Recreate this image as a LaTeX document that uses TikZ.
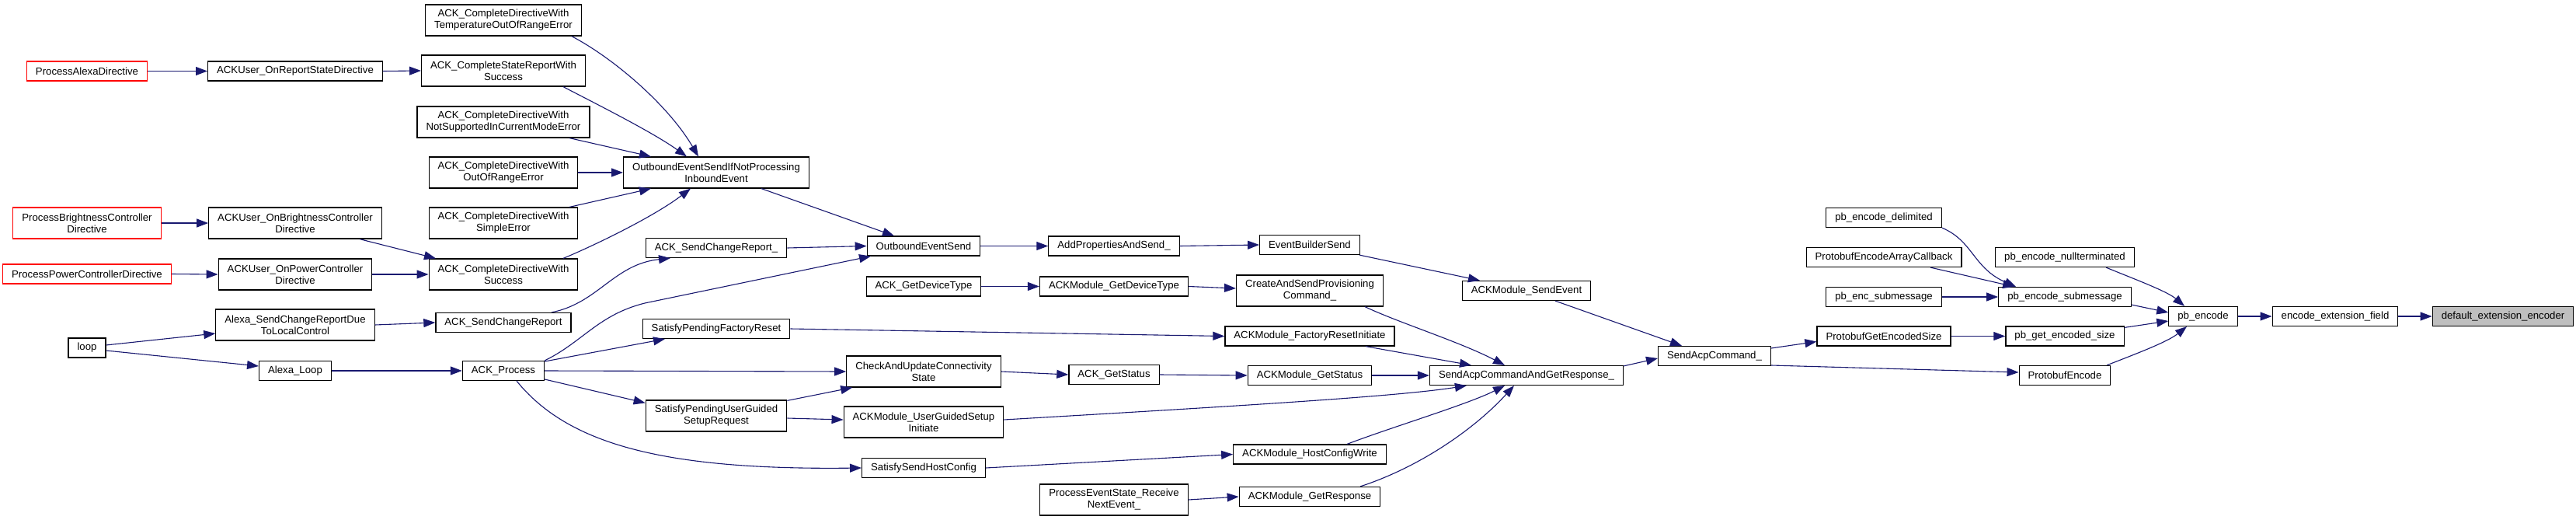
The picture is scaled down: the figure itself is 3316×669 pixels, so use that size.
\documentclass[tikz,border=0pt]{standalone}
\usepackage{fontspec}
\setmainfont{Liberation Sans}
\usetikzlibrary{arrows.meta, calc}
\definecolor{cEdge}{RGB}{25, 25, 112}
\definecolor{cRoot}{RGB}{191, 191, 191}
\definecolor{bCaller}{RGB}{255, 0, 0}
\definecolor{tDark}{RGB}{0, 0, 0}

\begin{document}
\begin{tikzpicture}[
    x=0.5pt, y=-0.5pt,
    font=\fontsize{6.6}{7.5}\selectfont,
    >={Triangle[length=7.5pt, width=5.5pt]},
    fn/.style={
        draw=#1,
        line width=0.6pt,
        fill=white,
        text=tDark,
        align=center,
        inner xsep=5.75pt,
        inner ysep=1pt,
        minimum height=12.5pt
    },
    fn/.default=black,
    twoline/.style={minimum height=20pt},
    arrow/.style={->, line width=0.55pt, color=cEdge}
]
\useasboundingbox (0,0) rectangle (3316,669);

% Callers on the far left
\node[fn=bCaller] (pad) at (112, 91.5) {ProcessAlexaDirective};
\node[fn=bCaller, twoline] (pbcd) at (112, 287) {ProcessBrightnessController\\Directive};
\node[fn=bCaller] (ppcd) at (112, 352.5) {ProcessPowerControllerDirective};
\node[fn] (loop) at (112, 447.5) {loop};

\node[fn] (uors) at (380, 91.5) {ACKUser\_OnReportStateDirective};
\node[fn, twoline] (uobc) at (380, 287) {ACKUser\_OnBrightnessController\\Directive};
\node[fn, twoline] (uopc) at (380, 353) {ACKUser\_OnPowerController\\Directive};
\node[fn, twoline] (scrd) at (380, 418) {Alexa\_SendChangeReportDue\\ToLocalControl};
\node[fn] (aloop) at (380, 477) {Alexa\_Loop};

\node[fn, twoline] (temp) at (648, 26) {ACK\_CompleteDirectiveWith\\TemperatureOutOfRangeError};
\node[fn, twoline] (csrs) at (648, 91) {ACK\_CompleteStateReportWith\\Success};
\node[fn, twoline] (nsup) at (648, 157) {ACK\_CompleteDirectiveWith\\NotSupportedInCurrentModeError};
\node[fn, twoline] (oor) at (648, 222) {ACK\_CompleteDirectiveWith\\OutOfRangeError};
\node[fn, twoline] (serr) at (648, 287) {ACK\_CompleteDirectiveWith\\SimpleError};
\node[fn, twoline] (cdws) at (648, 353) {ACK\_CompleteDirectiveWith\\Success};
\node[fn] (scr) at (648, 415) {ACK\_SendChangeReport};
\node[fn] (proc) at (648, 477) {ACK\_Process};

\node[fn, twoline] (oesi) at (922, 222) {OutboundEventSendIfNotProcessing\\InboundEvent};
\node[fn] (scru) at (922, 319) {ACK\_SendChangeReport\_};
\node[fn] (spfr) at (922, 423) {SatisfyPendingFactoryReset};
\node[fn, twoline] (spug) at (922, 535) {SatisfyPendingUserGuided\\SetupRequest};

\node[fn] (oes) at (1189, 316.5) {OutboundEventSend};
\node[fn] (gdt) at (1189, 368.5) {ACK\_GetDeviceType};
\node[fn, twoline] (cuc) at (1189, 478) {CheckAndUpdateConnectivity\\State};
\node[fn, twoline] (ugsi) at (1189, 543) {ACKModule\_UserGuidedSetup\\Initiate};
\node[fn] (sshc) at (1189, 602) {SatisfySendHostConfig};

\node[fn] (apas) at (1434, 316.5) {AddPropertiesAndSend\_};
\node[fn] (mgdt) at (1434, 368.5) {ACKModule\_GetDeviceType};
\node[fn] (gst) at (1434, 482) {ACK\_GetStatus};
\node[fn, twoline] (pesr) at (1434, 643) {ProcessEventState\_Receive\\NextEvent\_};

\node[fn] (ebs) at (1686, 315) {EventBuilderSend};
\node[fn, twoline] (casp) at (1686, 374) {CreateAndSendProvisioning\\Command\_};
\node[fn] (mfri) at (1686, 432.5) {ACKModule\_FactoryResetInitiate};
\node[fn] (mgst) at (1686, 483) {ACKModule\_GetStatus};
\node[fn] (mhcw) at (1686, 584.5) {ACKModule\_HostConfigWrite};
\node[fn] (mgr) at (1686, 639) {ACKModule\_GetResponse};

\node[fn] (mse) at (1965, 374) {ACKModule\_SendEvent};
\node[fn] (sacgr) at (1965, 483) {SendAcpCommandAndGetResponse\_};
\node[fn] (sac) at (2207, 458) {SendAcpCommand\_};

% Protobuf side
\node[fn] (pbed) at (2425, 280) {pb\_encode\_delimited};
\node[fn] (peac) at (2425, 331) {ProtobufEncodeArrayCallback};
\node[fn] (pbes) at (2425, 382) {pb\_enc\_submessage};
\node[fn] (pges) at (2425, 432.5) {ProtobufGetEncodedSize};

\node[fn] (pbnt) at (2658, 331) {pb\_encode\_nullterminated};
\node[fn] (pbesm) at (2658, 382) {pb\_encode\_submessage};
\node[fn] (pbgs) at (2658, 432.5) {pb\_get\_encoded\_size};
\node[fn] (penc) at (2658, 483) {ProtobufEncode};

\node[fn] (pbe) at (2836, 407) {pb\_encode};
\node[fn] (eef) at (3006, 407) {encode\_extension\_field};
\node[fn, fill=cRoot] (dee) at (3222, 407) {default\_extension\_encoder};

% Edges, left part
\draw[arrow] (pad.east) -- (uors.west);
\draw[arrow] (uors.east) -- (csrs.west);
\draw[arrow] (pbcd.east) -- (uobc.west);
\draw[arrow] ($(uobc.south)+(83,0)$) -- ($(cdws.north)+(-87,0)$);
\draw[arrow] (ppcd.east) -- (uopc.west);
\draw[arrow] (uopc.east) -- (cdws.west);
\draw[arrow] ($(loop.east)+(0,-3.5)$) -- ($(scrd.west)+(0,11)$);
\draw[arrow] ($(loop.east)+(0,3.5)$) -- ($(aloop.west)+(0,-6)$);
\draw[arrow] (scrd.east) -- (scr.west);
\draw[arrow] (aloop.east) -- (proc.west);

\draw[arrow] ($(temp.south east)+(-13,0)$) .. controls (790,75) and (860,135) .. ($(oesi.north)+(-23,0)$);
\draw[arrow] ($(csrs.south)+(77,0)$) .. controls (770,135) and (840,170) .. ($(oesi.north)+(-38,0)$);
\draw[arrow] ($(nsup.south)+(85,0)$) -- ($(oesi.north)+(-84,0)$);
\draw[arrow] (oor.east) -- (oesi.west);
\draw[arrow] ($(serr.north)+(85,0)$) -- ($(oesi.south)+(-84,0)$);
\draw[arrow] ($(cdws.north)+(77,0)$) .. controls (760,318) and (840,280) .. ($(oesi.south)+(-33,0)$);
\draw[arrow] ($(scr.north)+(62,0)$) .. controls (770,390) and (790,340) .. ($(scru.south)+(-59,0)$);

\draw[arrow] ($(oesi.south)+(58,0)$) -- ($(oes.north)+(-38,0)$);
\draw[arrow] (scru.east) -- (oes.west);
\draw[arrow] (proc.north east) .. controls (750,440) and (770,405) .. (830,390) -- ($(oes.south)+(-68,0)$);
\draw[arrow] ($(proc.east)+(0,-12)$) -- ($(spfr.south)+(-66,0)$);
\draw[arrow] (proc.east) -- (cuc.west);
\draw[arrow] ($(proc.east)+(0,11)$) -- ($(spug.north west)+(0,4)$);
\draw[arrow] ($(proc.south)+(17,0)$) .. controls (730,570) and (850,605) .. (sshc.west);
\draw[arrow] ($(spug.north east)+(0,1)$) -- ($(cuc.south west)+(8,0)$);
\draw[arrow] ($(spug.east)+(0,3)$) -- ($(ugsi.west)+(0,-3)$);

% Edges, middle part
\draw[arrow] (oes.east) -- (apas.west);
\draw[arrow] (apas.east) -- (ebs.west);
\draw[arrow] (gdt.east) -- (mgdt.west);
\draw[arrow] (mgdt.east) -- ($(casp.west)+(0,-3)$);
\draw[arrow] (spfr.east) -- (mfri.west);
\draw[arrow] (cuc.east) -- (gst.west);
\draw[arrow] (gst.east) -- (mgst.west);
\draw[arrow] ($(ugsi.east)+(0,-3)$) .. controls (1600,522) and (1800,510) .. ($(sacgr.south west)+(48,0)$);
\draw[arrow] (sshc.east) -- (mhcw.west);
\draw[arrow] (pesr.east) -- (mgr.west);

\draw[arrow] ($(ebs.south)+(64,0)$) -- ($(mse.north)+(-60,0)$);
\draw[arrow] ($(casp.south)+(71,0)$) .. controls (1800,415) and (1880,440) .. ($(sacgr.north)+(-28,0)$);
\draw[arrow] ($(mfri.south)+(72,0)$) -- ($(sacgr.north)+(-71,0)$);
\draw[arrow] (mgst.east) -- (sacgr.west);
\draw[arrow] ($(mhcw.north)+(48,0)$) .. controls (1790,550) and (1890,520) .. ($(sacgr.south)+(-28,0)$);
\draw[arrow] ($(mgr.north)+(65,0)$) .. controls (1830,600) and (1900,550) .. ($(sacgr.south)+(-16,0)$);
\draw[arrow] ($(mse.south)+(37,0)$) -- ($(sac.north)+(-42,0)$);
\draw[arrow] ($(sacgr.north east)+(0,1)$) -- ($(sac.west)+(0,3)$);

% Edges, protobuf part
\draw[arrow] ($(sac.east)+(0,-10)$) -- ($(pges.west)+(0,7)$);
\draw[arrow] ($(sac.east)+(0,12)$) -- ($(penc.west)+(0,-4)$);
\draw[arrow] (pbed.south east) .. controls (2540,310) and (2540,345) .. ($(pbesm.north west)+(23,0)$);
\draw[arrow] ($(peac.south)+(60,0)$) -- ($(pbesm.north west)+(21,0)$);
\draw[arrow] (pbes.east) -- (pbesm.west);
\draw[arrow] (pges.east) -- (pbgs.west);
\draw[arrow] ($(pbnt.south)+(53,0)$) .. controls (2750,360) and (2790,375) .. ($(pbe.north)+(-24,0)$);
\draw[arrow] ($(pbesm.south east)+(0,-3)$) -- ($(pbe.west)+(0,-5)$);
\draw[arrow] ($(pbgs.north east)+(0,2)$) -- ($(pbe.west)+(0,6)$);
\draw[arrow] ($(penc.north)+(54,0)$) .. controls (2750,455) and (2790,440) .. ($(pbe.south)+(-21,0)$);
\draw[arrow] (pbe.east) -- (eef.west);
\draw[arrow] (eef.east) -- (dee.west);

\end{tikzpicture}
\end{document}
